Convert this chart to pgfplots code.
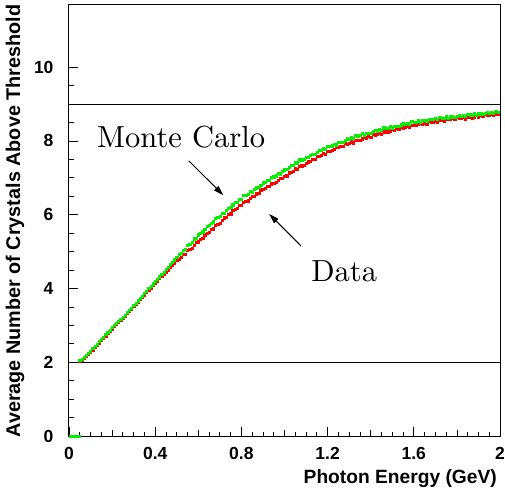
\documentclass[border=0pt]{standalone}
\usepackage{pgfplots}
\pgfplotsset{compat=1.18}
\usepackage{pgfplotstable}
\usepackage{fontspec}
\newfontfamily\hel{Liberation Sans}
\newfontfamily\cmten{lmroman10-regular.otf}
\usetikzlibrary{arrows.meta}
\definecolor{mcgreen}{RGB}{0,240,0}
\definecolor{datared}{RGB}{255,0,0}

\pgfplotstableread{
x mc data
0.05 2.05 2.03
0.06 2.09 2.07
0.07 2.14 2.12
0.08 2.20 2.17
0.09 2.25 2.22
0.10 2.30 2.28
0.11 2.37 2.34
0.12 2.43 2.40
0.13 2.49 2.47
0.14 2.56 2.53
0.15 2.62 2.59
0.16 2.68 2.66
0.17 2.75 2.72
0.18 2.81 2.78
0.19 2.87 2.85
0.20 2.94 2.91
0.21 3.00 2.97
0.22 3.06 3.03
0.23 3.12 3.09
0.24 3.17 3.15
0.25 3.23 3.20
0.26 3.28 3.26
0.27 3.35 3.32
0.28 3.41 3.38
0.29 3.47 3.44
0.30 3.54 3.51
0.31 3.60 3.57
0.32 3.67 3.64
0.33 3.74 3.70
0.34 3.80 3.77
0.35 3.87 3.83
0.36 3.93 3.90
0.37 4.00 3.96
0.38 4.06 4.02
0.39 4.13 4.09
0.40 4.19 4.14
0.41 4.26 4.20
0.42 4.32 4.27
0.43 4.39 4.33
0.44 4.45 4.39
0.45 4.52 4.45
0.46 4.58 4.51
0.47 4.65 4.57
0.48 4.72 4.63
0.49 4.78 4.69
0.50 4.85 4.78
0.51 4.93 4.81
0.52 4.96 4.85
0.53 5.04 4.94
0.54 5.07 4.94
0.55 5.18 5.03
0.56 5.21 5.07
0.57 5.26 5.10
0.58 5.35 5.17
0.59 5.36 5.25
0.60 5.46 5.27
0.61 5.50 5.34
0.62 5.54 5.36
0.63 5.61 5.46
0.64 5.69 5.49
0.65 5.71 5.53
0.66 5.78 5.61
0.67 5.81 5.62
0.68 5.91 5.71
0.69 5.93 5.75
0.70 5.97 5.78
0.71 6.05 5.85
0.72 6.05 5.92
0.73 6.13 5.94
0.74 6.17 6.01
0.75 6.20 6.03
0.76 6.27 6.13
0.77 6.33 6.14
0.78 6.35 6.18
0.79 6.41 6.25
0.80 6.43 6.25
0.81 6.52 6.33
0.82 6.53 6.36
0.83 6.56 6.38
0.84 6.63 6.44
0.85 6.62 6.50
0.86 6.70 6.51
0.87 6.73 6.57
0.88 6.75 6.58
0.89 6.81 6.68
0.90 6.87 6.69
0.91 6.88 6.72
0.92 6.93 6.78
0.93 6.94 6.77
0.94 7.02 6.84
0.95 7.03 6.86
0.96 7.06 6.88
0.97 7.13 6.93
0.98 7.11 6.99
0.99 7.19 6.99
1.00 7.22 7.05
1.01 7.24 7.06
1.02 7.29 7.14
1.03 7.35 7.15
1.04 7.35 7.18
1.05 7.41 7.25
1.06 7.41 7.23
1.07 7.49 7.31
1.08 7.49 7.33
1.09 7.51 7.34
1.10 7.57 7.39
1.11 7.55 7.44
1.12 7.62 7.45
1.13 7.64 7.50
1.14 7.65 7.51
1.15 7.70 7.59
1.16 7.75 7.59
1.17 7.74 7.61
1.18 7.79 7.67
1.19 7.78 7.65
1.20 7.86 7.72
1.21 7.85 7.73
1.22 7.87 7.74
1.23 7.92 7.78
1.24 7.90 7.83
1.25 7.96 7.82
1.26 7.97 7.86
1.27 7.97 7.85
1.28 8.02 7.93
1.29 8.06 7.92
1.30 8.05 7.93
1.31 8.09 7.98
1.32 8.08 7.95
1.33 8.15 8.01
1.34 8.14 8.02
1.35 8.15 8.02
1.36 8.20 8.06
1.37 8.16 8.10
1.38 8.22 8.09
1.39 8.22 8.12
1.40 8.22 8.11
1.41 8.26 8.18
1.42 8.29 8.17
1.43 8.28 8.18
1.44 8.31 8.22
1.45 8.30 8.19
1.46 8.36 8.25
1.47 8.35 8.25
1.48 8.35 8.25
1.49 8.40 8.28
1.50 8.36 8.32
1.51 8.41 8.30
1.52 8.41 8.34
1.53 8.41 8.32
1.54 8.44 8.38
1.55 8.47 8.36
1.56 8.45 8.37
1.57 8.48 8.41
1.58 8.47 8.37
1.59 8.53 8.43
1.60 8.51 8.43
1.61 8.51 8.42
1.62 8.55 8.45
1.63 8.51 8.48
1.64 8.56 8.46
1.65 8.56 8.49
1.66 8.55 8.47
1.67 8.58 8.53
1.68 8.60 8.51
1.69 8.58 8.51
1.70 8.61 8.55
1.71 8.59 8.51
1.72 8.65 8.56
1.73 8.62 8.56
1.74 8.62 8.55
1.75 8.66 8.58
1.76 8.62 8.60
1.77 8.66 8.58
1.78 8.66 8.61
1.79 8.64 8.58
1.80 8.67 8.64
1.81 8.70 8.62
1.82 8.67 8.61
1.83 8.70 8.65
1.84 8.67 8.60
1.85 8.73 8.65
1.86 8.71 8.65
1.87 8.70 8.63
1.88 8.74 8.66
1.89 8.69 8.69
1.90 8.74 8.66
1.91 8.74 8.69
1.92 8.73 8.67
1.93 8.75 8.72
1.94 8.78 8.70
1.95 8.76 8.70
1.96 8.78 8.73
1.97 8.76 8.69
1.98 8.81 8.73
1.99 8.79 8.73
}\tbl

\begin{document}
\begin{tikzpicture}
\path[use as bounding box] (-69pt,-59pt) rectangle (436pt,436pt);
\begin{axis}[
  scale only axis, width=431pt, height=431.5pt,
  xmin=0, xmax=2, ymin=0, ymax=11.7,
  axis line style={line width=1pt},
  xtick={0,0.4,0.8,1.2,1.6,2},
  xticklabels={0,0.4,0.8,1.2,1.6,2},
  ytick={0,2,4,6,8,10},
  yticklabels={0,2,4,6,8,10},
  minor x tick num=7, minor y tick num=3,
  tick align=inside, tick pos=left,
  major tick length=9pt, minor tick length=4.5pt,
  tick style={black, line width=0.8pt},
  extra x ticks={0.2,0.6,1.0,1.4,1.8}, extra x tick labels={},
  extra x tick style={major tick length=6.5pt},
  ticklabel style={font=\hel\bfseries\fontsize{17.5}{20}\selectfont},
  yticklabel style={xshift=-12pt},
  xticklabel style={yshift=-8pt},
  xlabel={Photon Energy (GeV)},
  ylabel={Average Number of Crystals Above Threshold},
  xlabel style={font=\hel\bfseries\fontsize{19.2}{22}\selectfont, at={(rel axis cs:0.993,-0.0765)}, anchor=north east, inner sep=0pt},
  ylabel style={font=\hel\bfseries\fontsize{19.8}{23}\selectfont, at={(rel axis cs:-0.103,1)}, anchor=south east, inner sep=0pt},
]
\addplot[black, line width=0.8pt, forget plot] coordinates {(0,2) (2,2)};
\addplot[black, line width=0.8pt, forget plot] coordinates {(0,9) (2,9)};
\addplot[only marks, mark=square*, mark size=1.1pt, datared, mark options={draw=datared, fill=datared}] table[x=x, y=data] {\tbl};
\addplot[only marks, mark=square*, mark size=1.1pt, mcgreen, mark options={draw=mcgreen, fill=mcgreen}] table[x=x, y=mc] {\tbl};
\addplot[only marks, mark=square*, mark size=1.1pt, mcgreen, mark options={draw=mcgreen, fill=mcgreen}] coordinates {(0.005,0) (0.015,0) (0.025,0) (0.035,0) (0.045,0)};
\draw[-{Triangle[length=10pt,width=6pt]}, line width=1pt] (axis cs:0.556,7.46) -- (axis cs:0.716,6.53);
\draw[-{Triangle[length=10pt,width=6pt]}, line width=1pt] (axis cs:1.077,5.15) -- (axis cs:0.929,6.02);
\node[anchor=base west, inner sep=0pt, font=\cmten\fontsize{30.5}{36}\selectfont] at (axis cs:0.13,7.83) {Monte Carlo};
\node[anchor=base west, inner sep=0pt, font=\cmten\fontsize{30.5}{36}\selectfont] at (axis cs:1.124,4.20) {Data};
\end{axis}
\end{tikzpicture}
\end{document}
